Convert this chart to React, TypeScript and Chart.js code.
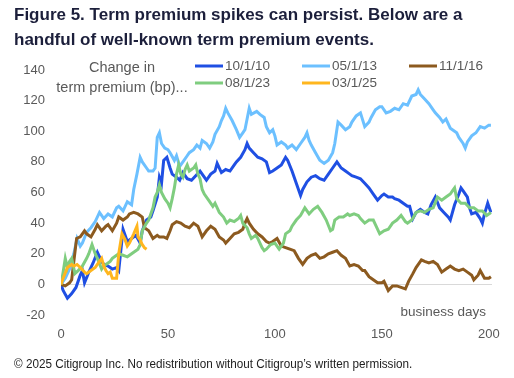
import { useEffect, useRef } from 'react';
import { Chart, registerables } from 'chart.js';
Chart.register(...registerables);

const seriesLabels = ['10/1/10', '05/1/13', '11/1/16', '08/1/23', '03/1/25'];
const seriesColors = ['#1f4fe3', '#6cc0ff', '#8c5a1f', '#7fcd7f', '#ffb61e'];
const xTicks = [0, 50, 100, 150, 200];

const s101010: [number, number][] = [[0,0],[1,-4],[3,-9],[5,-6],[7,-2],[9,6],[10,9],[11,1],[13,8],[15,14],[17,21],[19,15],[20,13],[22,12],[24,10],[26,11],[27,9],[29,36],[31,28],[33,30],[35,32],[37,27],[38,35],[40,42],[42,44],[43,48],[45,57],[46,70],[47,66],[48,81],[49.5,83],[51,76],[52,72],[54,70],[55.5,68],[57,73],[59,69],[61,68],[63,71],[65,74],[67,70],[68,68],[70,72],[72,74],[73,79],[75,73],[77,75],[79,74],[81,78],[82,80],[84,83],[86,88],[87,92],[88,89],[90,86],[92,83],[94,82],[96,80],[97.5,73],[99,74],[101,76],[103,78],[105,83],[106,81],[108,74],[110,66],[112,58],[113,62],[115,67],[117,70],[119,71],[121,69],[123,68],[125,72],[127,76],[129,80],[131,76],[133,74],[135,72],[136,71],[138,70],[140,69],[142,66],[144,63],[146,59],[148,55],[150,58],[151,59],[153,57],[155,57],[156,56],[158,55],[160,53],[162,51],[163,51],[164.5,43],[166,47],[168,49],[170,47],[171.5,46],[173,52],[175,57],[177,50],[179,47],[181,44],[182,42],[184,52],[186,59],[187,63],[188,61],[190,57],[191,50],[192,46],[194,47],[196,43],[197,40],[198,46],[199.5,53],[201,47]];

const s050113: [number, number][] = [[0,0],[2,4],[4,10],[6,20],[7.5,30],[9,25],[10,27],[12,34],[14,37],[16,41],[18,47],[20,43],[22,46],[24,44],[26,50],[27,51],[29,48],[31,54],[33,52],[34,62],[35.5,72],[37,83],[38,80],[40,76],[41,74],[43,74],[44,76],[45,96],[46,99],[47,92],[48.5,89],[50,88],[51,86],[53,81],[54,84],[55.5,77],[57,80],[59,84],[60,86],[62,88],[63.5,91],[65,89],[66,94],[68,92],[69.5,89],[71,93],[72,98],[74,103],[75,107],[76,110],[77,115],[78,112],[80,107],[82,101],[83.5,96],[85,99],[86,101],[87,108],[88,115],[89,111],[91.5,113],[93,111],[95,109],[96,103],[97.5,99],[99,101],[100,97],[101,91],[103,93],[105,91],[106,89],[108,91],[110,88],[112,92],[114,96],[115,99],[116,94],[117,91],[119,86],[121,81],[123,79],[125,81],[127,86],[128,92],[129.5,106],[131,104],[133,101],[135,103],[136,106],[138,110],[140,112],[142,103],[144,106],[145,109],[147,114],[149,116],[150,116],[152,112],[154,113],[156,115],[158,114],[160,118],[162,117],[164,123],[166,124],[167,127],[168,124],[170,121],[172,118],[174,114],[175,112],[177,109],[178.5,106],[180,108],[182,102],[183,101],[185,99],[186,96],[188,92],[189,89],[190,93],[192,97],[194,99],[196,103],[198,102],[200,104],[201,104]];

const s110116: [number, number][] = [[0,0],[2,-1],[4,1],[5,3],[6,15],[7.3,30],[9,31],[11,35],[12,33],[14,31],[16,36],[17,39],[19,35],[21,38],[22,39],[24,35],[26,40],[27,44],[29,42],[31,44],[32,46],[34,47],[36,46],[38,44],[39,37],[41,35],[43,30],[45,32],[46,31],[48,31],[49.5,30],[51,35],[52,39],[54,41],[56,40],[58,38],[60,37],[62,40],[64,38],[66,31],[68,35],[70,38],[72,36],[74,31],[76,29],[77,27],[79,30],[81,33],[83,34],[85,36],[86,40],[87,43],[88,40],[90,36],[92,33],[94,31],[96,28],[97.5,27],[99,28],[101,30],[103,25],[105,24],[107,23],[109,22],[111,17],[113,13],[115,17],[117,19],[119,20],[121,17],[123,18],[125,20],[127,21],[129,22],[131,19],[133,17],[135,12],[137,13],[139,12],[141,9],[142,9],[144,5],[146,3],[148,1],[150,1],[151,2],[153,-4],[155,-1],[157,-1],[159,-2],[161,-3],[162.5,2],[164.5,7],[166,11],[168.5,16],[170,15],[172,14],[174,15],[176,13],[178,8],[180,10],[182,12],[184,10],[186,9],[188,10],[190,8],[192,6],[193,3],[195,6],[196,9],[198,4],[200,4],[201,5]];

const s080123: [number, number][] = [[0,0],[1,8],[2,17],[3,11],[4,15],[5,17],[6.5,7],[8,9],[10,12],[12,17],[13,20],[14.5,26],[16,20],[17,17],[19,10],[20,12],[21,13],[23,15],[24,17],[26,19],[27,20],[29,19],[31,18],[33,20],[34,21],[36,23],[37,26],[38,35],[40,40],[41,42],[43,50],[44,57],[45,60],[46,65],[47,60],[48.5,56],[50,53],[51,50],[52,56],[53,63],[54,72],[55,78],[56,72],[57,70],[58,75],[59,78],[60,74],[62,76],[63,78],[64,72],[65,69],[66,62],[67,59],[69,55],[71,51],[72,53],[74,47],[76,44],[77.5,40],[79,42],[81,41],[83,43],[84,45],[85,40],[87,37],[88,33],[89,30],[91,32],[92,30],[94,24],[95,22],[96,23],[98,26],[100,27],[102,23],[104,27],[105,33],[107,35],[108,38],[110,42],[112,45],[114,50],[115,48],[116,46],[118,49],[120,51],[122,47],[124,42],[126,35],[127,36],[128,42],[130,44],[132,44],[134,46],[135,45],[137,46],[139,45],[140,43],[142,40],[144,42],[146,42],[147,39],[149,33],[151,35],[153,36],[155,40],[157,42],[159,45],[161,41],[162,40],[164,42],[166,47],[168,48],[170,47],[172,49],[174,50],[176,57],[178,55],[180,57],[182,59],[183,61],[184,63],[185,56],[187,53],[189,53],[191,50],[193,50],[195,48],[197,48],[199,45],[200,46],[201,47]];

const s030125: [number, number][] = [[0,0],[1,4],[3,11],[5,13],[6,12],[7.5,13],[9,11],[11,8],[12,7],[14,9],[16,11],[17,13],[19,17],[20,12],[21,9],[22,7],[23,8],[24,4],[26,4],[27,20],[28.5,33],[30,29],[31,25],[32,27],[34,33],[35.5,38],[36,31],[37,29],[38,26],[39,24],[40,23]];

const allSeries = [s101010, s050113, s110116, s080123, s030125];

const FONT = '"Liberation Sans", Arial, sans-serif';
const GRAY = '#595959';

const overlayPlugin = {
  id: 'overlayText',
  afterDraw(chart: any) {
    const ctx = chart.ctx as CanvasRenderingContext2D;
    ctx.save();
    const cols = [195, 302, 409];
    const rows = [66, 83];
    chart.data.datasets.forEach((ds: any, i: number) => {
      const x = cols[i % 3];
      const y = rows[Math.floor(i / 3)];
      ctx.strokeStyle = ds.borderColor;
      ctx.lineWidth = 3;
      ctx.beginPath();
      ctx.moveTo(x, y);
      ctx.lineTo(x + 28, y);
      ctx.stroke();
      ctx.fillStyle = GRAY;
      ctx.font = '13.5px ' + FONT;
      ctx.textAlign = 'left';
      ctx.textBaseline = 'middle';
      ctx.fillText(ds.label, x + 30, y);
    });
    ctx.font = '14.5px ' + FONT;
    ctx.textAlign = 'center';
    ctx.fillText('Change in', 122, 68);
    ctx.fillText('term premium (bp)...', 122, 88);
    ctx.font = '13.5px ' + FONT;
    ctx.textAlign = 'right';
    ctx.fillText('business days', 486, 312);
    ctx.restore();
  },
};

export default function App() {
  const ref = useRef<HTMLCanvasElement>(null);
  useEffect(() => {
    const chart = new Chart(ref.current!, {
      type: 'line',
      data: {
        datasets: allSeries.map((s, i) => ({
          label: seriesLabels[i],
          data: s.map(([x, y]) => ({ x, y })),
          borderColor: seriesColors[i],
          backgroundColor: seriesColors[i],
          borderWidth: 3,
          pointRadius: 0,
          tension: 0,
          fill: false,
          order: 5 - i,
        })),
      },
      options: {
        responsive: false,
        animation: false,
        layout: { padding: { left: 0, right: 22, top: 70, bottom: 23 } },
        plugins: { legend: { display: false }, tooltip: { enabled: false }, title: { display: false } },
        scales: {
          x: {
            type: 'linear',
            min: 0,
            max: 201.5,
            afterBuildTicks: (scale: any) => { scale.ticks = xTicks.map((v) => ({ value: v })); },
            afterFit: (scale: any) => { scale.height = 40; },
            ticks: { color: GRAY, font: { family: FONT, size: 13 }, padding: 12, maxRotation: 0 },
            grid: { display: false, drawTicks: false },
            border: { display: false },
          },
          y: {
            min: -20,
            max: 140,
            afterFit: (scale: any) => { scale.width = 61; },
            ticks: { stepSize: 20, color: GRAY, font: { family: FONT, size: 13 }, padding: 16 },
            grid: {
              drawTicks: false,
              lineWidth: 1,
              color: (c: any) => (c.tick && c.tick.value === 0 ? '#d9d9d9' : 'rgba(0,0,0,0)'),
            },
            border: { display: false },
          },
        },
      },
      plugins: [overlayPlugin],
    } as any);
    return () => chart.destroy();
  }, []);
  return (
    <div style={{ position: 'fixed', left: 0, top: 0, width: 514, height: 378, background: '#fff', overflow: 'hidden' }}>
      <canvas ref={ref} width={514} height={378} style={{ position: 'absolute', left: 0, top: 0, width: 514, height: 378 }} />
      <div style={{ position: 'absolute', left: 14, top: 2, width: 500, fontFamily: FONT, fontWeight: 700, fontSize: 17, lineHeight: '25px', color: '#1c1f3b' }}>
        Figure 5. Term premium spikes can persist. Below are a<br />handful of well-known term premium events.
      </div>
      <div style={{ position: 'absolute', left: 14, top: 357, whiteSpace: 'nowrap', fontFamily: FONT, fontSize: 12.5, lineHeight: '15px', color: '#222', transform: 'scaleX(0.937)', transformOrigin: 'left top' }}>
        © 2025 Citigroup Inc. No redistribution without Citigroup’s written permission.
      </div>
    </div>
  );
}
